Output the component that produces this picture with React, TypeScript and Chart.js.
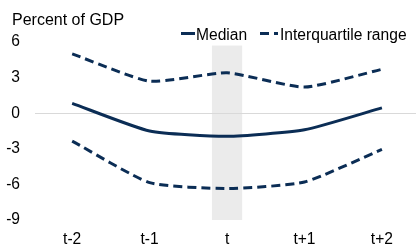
import React, { useEffect, useRef } from "react";
import { Chart, registerables } from "chart.js";

Chart.register(...registerables);

const categories = ["t-2", "t-1", "t", "t+1", "t+2"];
const median = [0.83, -1.5, -1.95, -1.4, 0.45];
const upperQuartile = [5.0, 2.7, 3.4, 2.2, 3.7];
const lowerQuartile = [-2.35, -5.85, -6.35, -5.8, -3.05];
const yTicks = [-9, -6, -3, 0, 3, 6];
const bandCategory = "t";
const bandTop = 5.7;
const bandBottom = -9;

const NAVY = "#0b2d55";
const FONT = "'Liberation Sans', Arial, sans-serif";
const TENSION = 0.18;

export default function App() {
  const ref = useRef<HTMLCanvasElement | null>(null);
  useEffect(() => {
    const canvas = ref.current!;
    const toPts = (arr: number[]) => arr.map((v, i) => ({ x: i, y: v }));
    const bandPlugin = {
      id: "band",
      beforeDatasetsDraw(chart: any) {
        const { ctx, scales } = chart;
        const xs = scales.x, ys = scales.y;
        const c = categories.indexOf(bandCategory);
        const x0 = xs.getPixelForValue(c - 0.195);
        const x1 = xs.getPixelForValue(c + 0.195);
        const y0 = ys.getPixelForValue(bandTop);
        const y1 = ys.getPixelForValue(bandBottom);
        ctx.save();
        ctx.fillStyle = "#ebebeb";
        ctx.fillRect(x0, y0, x1 - x0, y1 - y0);
        const yz = Math.round(ys.getPixelForValue(0)) + 0.5;
        ctx.strokeStyle = "#d9d9d9";
        ctx.lineWidth = 1;
        ctx.beginPath();
        ctx.moveTo(chart.chartArea.left, yz);
        ctx.lineTo(chart.chartArea.right, yz);
        ctx.stroke();
        ctx.restore();
      },
    };
    const textPlugin = {
      id: "texts",
      afterDraw(chart: any) {
        const { ctx } = chart;
        ctx.save();
        ctx.fillStyle = "#000";
        ctx.textBaseline = "alphabetic";
        ctx.textAlign = "left";
        ctx.font = `16px ${FONT}`;
        ctx.fillText("Percent of GDP", 12, 24.5);
        ctx.font = `15.6px ${FONT}`;
        ctx.strokeStyle = NAVY;
        ctx.lineWidth = 3;
        ctx.beginPath();
        ctx.moveTo(181, 33.5);
        ctx.lineTo(195, 33.5);
        ctx.stroke();
        ctx.fillText("Median", 196, 39.5);
        ctx.setLineDash([9, 5]);
        ctx.beginPath();
        ctx.moveTo(260, 33.5);
        ctx.lineTo(278, 33.5);
        ctx.stroke();
        ctx.setLineDash([]);
        ctx.fillText("Interquartile range", 280, 39.5);
        ctx.restore();
      },
    };
    const lineStyle = {
      borderColor: NAVY,
      borderWidth: 3,
      tension: TENSION,
      pointRadius: 0,
    };
    const chart = new Chart(canvas, {
      type: "line",
      data: {
        datasets: [
          { label: "Median", data: toPts(median), ...lineStyle },
          { label: "Interquartile range", data: toPts(upperQuartile), ...lineStyle, borderDash: [9, 5] },
          { label: "Interquartile range (low)", data: toPts(lowerQuartile), ...lineStyle, borderDash: [9, 5] },
        ],
      },
      options: {
        responsive: false,
        animation: false,
        layout: { padding: { top: 42, left: 0, right: 0, bottom: 0 } },
        plugins: { legend: { display: false }, tooltip: { enabled: false } },
        scales: {
          x: {
            type: "linear",
            min: -0.48,
            max: 4.44,
            afterBuildTicks(scale: any) {
              scale.ticks = categories.map((_, i) => ({ value: i }));
            },
            afterFit(scale: any) {
              scale.height = 25;
            },
            grid: { display: false, drawTicks: false },
            border: { display: false },
            ticks: {
              padding: 10,
              color: "#000",
              font: { family: FONT, size: 15.6 },
              autoSkip: false,
              maxRotation: 0,
              callback: (v: any) => categories[v] ?? "",
            },
          },
          y: {
            min: -9,
            max: 6,
            afterBuildTicks(scale: any) {
              scale.ticks = yTicks.map((v) => ({ value: v }));
            },
            afterFit(scale: any) {
              scale.width = 35;
            },
            grid: { display: false, drawTicks: false },
            border: { display: false },
            ticks: {
              padding: 15,
              color: "#000",
              font: { family: FONT, size: 15.6 },
            },
          },
        },
      },
      plugins: [bandPlugin, textPlugin],
    });
    return () => chart.destroy();
  }, []);
  return (
    <div style={{ position: "absolute", left: 0, top: 0, width: 416, height: 245, background: "#fff" }}>
      <canvas ref={ref} width={416} height={245} />
    </div>
  );
}
